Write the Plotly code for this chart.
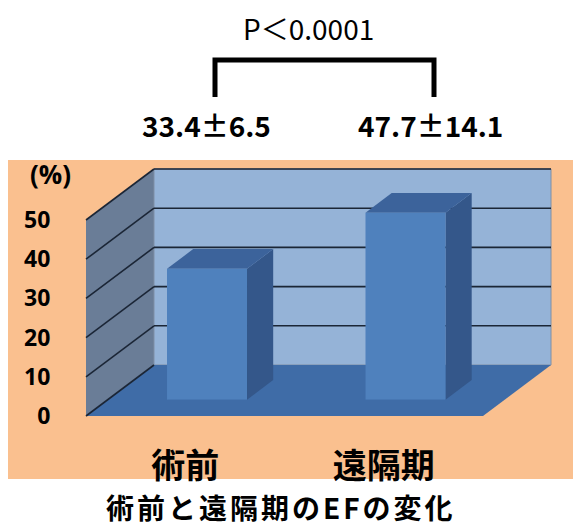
import plotly.graph_objects as go

# ---------------- data ----------------
categories = ["術前", "遠隔期"]
ef_values = [33.4, 47.7]
sd_labels = ["33.4±6.5", "47.7±14.1"]
y_ticks = [0, 10, 20, 30, 40, 50]
p_label = "P＜0.0001"
y_unit = "(%)"
title_text = "術前と遠隔期のEFの変化"

# ---------------- geometry (pixels) ----------------
W, H = 573, 529
X0, X1 = 86, 483          # front floor edge, left/right
Y0 = 416                  # value 0 on the front plane
YMAX = 50
PPU = 196 / 50            # pixels per percent
DX, DY = 68, 51           # oblique offset for full depth
DF, DB = 0.32, 0.705      # bar front / back depth
BAR_W = 0.403

JP = "Noto Sans CJK JP"
NUM = "Open Sans"


def px(x):
    return x / W


def py(y):
    return 1 - y / H


def proj(c, v, d):
    x = X0 + (c + 0.5) * (X1 - X0) / 2 + d * DX
    y = Y0 - v * PPU - d * DY
    return x, y


def poly(points):
    pts = [proj(*p) for p in points]
    return "M " + " L ".join(f"{px(x):.5f},{py(y):.5f}" for x, y in pts) + " Z"


def seg(p1, p2):
    (x1, y1), (x2, y2) = proj(*p1), proj(*p2)
    return "M {:.5f},{:.5f} L {:.5f},{:.5f}".format(px(x1), py(y1), px(x2), py(y2))


shapes = []
# orange chart background
shapes.append(dict(type="rect", xref="paper", yref="paper", x0=px(8), x1=px(573),
                   y0=py(479), y1=py(160), fillcolor="#FAC08F", line_width=0, layer="below"))
# left wall
shapes.append(dict(type="path", xref="paper", yref="paper", layer="below",
                   path=poly([(-0.5, 0, 0), (-0.5, YMAX, 0), (-0.5, YMAX, 1), (-0.5, 0, 1)]),
                   fillcolor="#6A7D97", line=dict(width=0)))
# back wall
shapes.append(dict(type="path", xref="paper", yref="paper", layer="below",
                   path=poly([(-0.5, 0, 1), (1.5, 0, 1), (1.5, YMAX, 1), (-0.5, YMAX, 1)]),
                   fillcolor="#95B3D7", line=dict(color="#7F8FA6", width=1)))
# floor
shapes.append(dict(type="path", xref="paper", yref="paper", layer="below",
                   path=poly([(-0.5, 0, 0), (1.5, 0, 0), (1.5, 0, 1), (-0.5, 0, 1)]),
                   fillcolor="#3F6CA7", line=dict(width=0)))
# gridlines
for t in y_ticks:
    shapes.append(dict(type="path", xref="paper", yref="paper", layer="below",
                       path=seg((-0.5, t, 0), (-0.5, t, 1)), line=dict(color="#1B2636", width=1.6)))
    if t > 0:
        shapes.append(dict(type="path", xref="paper", yref="paper", layer="below",
                           path=seg((-0.5, t, 1), (1.5, t, 1)), line=dict(color="#1B2636", width=1.6)))
# bar top and side faces
for i, v in enumerate(ef_values):
    l, r = i - BAR_W / 2, i + BAR_W / 2
    shapes.append(dict(type="path", xref="paper", yref="paper", layer="below",
                       path=poly([(r, 0, DF), (r, v, DF), (r, v, DB), (r, 0, DB)]),
                       fillcolor="#34578A", line=dict(width=0)))
    shapes.append(dict(type="path", xref="paper", yref="paper", layer="below",
                       path=poly([(l, v, DF), (r, v, DF), (r, v, DB), (l, v, DB)]),
                       fillcolor="#3C639B", line=dict(width=0)))
# significance bracket
shapes.append(dict(type="path", xref="paper", yref="paper", layer="above",
                   path="M {:.5f},{:.5f} L {:.5f},{:.5f} L {:.5f},{:.5f} L {:.5f},{:.5f}".format(
                       px(215), py(97), px(215), py(60), px(434), py(60), px(434), py(97)),
                   line=dict(color="black", width=5)))

fig = go.Figure()
# front-plane axes carrier (invisible) so the tick axes are drawn
fig.add_trace(go.Scatter(x=list(range(len(categories))), y=[y_ticks[0]] * len(categories),
                         xaxis="x", yaxis="y", mode="none", hoverinfo="skip", showlegend=False))
# bars on the bar plane
fig.add_trace(go.Bar(x=categories, y=ef_values, xaxis="x2", yaxis="y2",
                     width=BAR_W, marker=dict(color="#4F81BD", line=dict(width=0)),
                     showlegend=False, hoverinfo="x+y"))

bx0, by0 = proj(-0.5, 0, DF)
bx1, by1 = proj(1.5, YMAX, DF)

fig.update_layout(
    width=W, height=H, autosize=False,
    margin=dict(l=0, r=0, t=0, b=0, pad=0),
    paper_bgcolor="white", plot_bgcolor="rgba(0,0,0,0)",
    shapes=shapes,
    showlegend=False,
    xaxis=dict(domain=[px(X0), px(X1)], range=[-0.5, 1.5], anchor="y", type="linear",
               tickmode="array", tickvals=list(range(len(categories))), ticktext=categories,
               ticks="outside", ticklen=20, tickcolor="rgba(0,0,0,0)", showticklabels=True,
               showgrid=False, zeroline=False, showline=False, automargin=False,
               tickfont=dict(family=JP, size=34, color="black", weight="bold")),
    yaxis=dict(domain=[py(Y0), py(Y0 - YMAX * PPU)], range=[0, YMAX], anchor="x", type="linear",
               tickmode="array", tickvals=y_ticks, showticklabels=True,
               ticks="outside", ticklen=30, tickcolor="rgba(0,0,0,0)",
               showgrid=False, zeroline=False, showline=False, automargin=False,
               tickfont=dict(family=NUM, size=23, color="black", weight="bold")),
    xaxis2=dict(domain=[px(bx0), px(X1 + DF * DX)], range=[-0.5, 1.5], anchor="y2",
                type="category", categoryarray=categories, visible=False),
    yaxis2=dict(domain=[py(by0), py(by1)], range=[0, YMAX], anchor="x2", visible=False),
)

ann = [
    dict(text=y_unit, x=px(50), y=py(174), font=dict(family=NUM, size=26, color="black", weight="bold")),
    dict(text=p_label, x=px(308), y=py(28), font=dict(family=JP, size=28, color="black")),
    dict(text=sd_labels[0], x=px(206), y=py(125), font=dict(family=JP, size=28, color="black", weight="bold")),
    dict(text=sd_labels[1], x=px(430), y=py(125), font=dict(family=JP, size=28, color="black", weight="bold")),
    dict(text='<span style="letter-spacing:3px">' + title_text + '</span>', x=px(281), y=py(507.5),
         font=dict(family=JP, size=28, color="black", weight="bold")),
]
for a in ann:
    a.update(xref="paper", yref="paper", showarrow=False, xanchor="center", yanchor="middle")
fig.update_layout(annotations=ann)

fig.write_html("out.html")
